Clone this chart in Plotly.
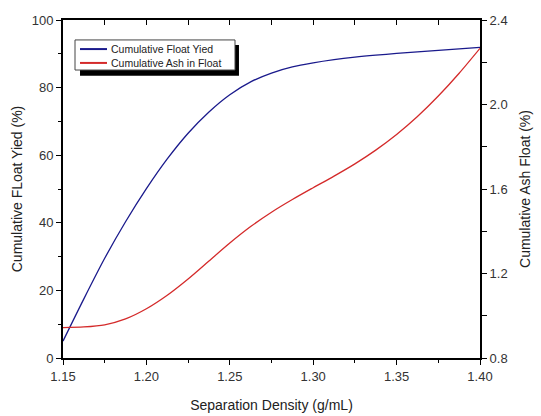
import plotly.graph_objects as go

density = [1.15, 1.1625, 1.175, 1.1875, 1.20, 1.2125, 1.225, 1.2375, 1.25, 1.2625, 1.275,
           1.2875, 1.30, 1.3125, 1.325, 1.3375, 1.35, 1.3625, 1.375, 1.3875, 1.40]
float_yield = [5.0, 17.5, 29.5, 40.3, 50.1, 58.9, 66.5, 72.8, 77.9, 81.7, 84.3,
               86.1, 87.3, 88.25, 89.0, 89.6, 90.1, 90.55, 91.0, 91.45, 91.9]
ash_float = [0.944, 0.947, 0.957, 0.985, 1.033, 1.097, 1.174, 1.259, 1.344, 1.422, 1.490,
             1.550, 1.606, 1.661, 1.719, 1.784, 1.858, 1.943, 2.040, 2.148, 2.266]
series_names = ["Cumulative Float Yied", "Cumulative Ash in Float"]
series_colors = ["#1a1a8c", "#d42a2a"]

FONT = "Liberation Sans, Arial, sans-serif"

fig = go.Figure()
fig.add_trace(go.Scatter(x=density, y=float_yield, mode="lines", name=series_names[0],
                         line=dict(color=series_colors[0], width=1.3, shape="spline", smoothing=0.8)))
fig.add_trace(go.Scatter(x=density, y=ash_float, mode="lines", name=series_names[1],
                         yaxis="y2", line=dict(color=series_colors[1], width=1.3, shape="spline", smoothing=0.8)))
fig.add_trace(go.Scatter(x=[1.15], y=[None], xaxis="x2", showlegend=False, hoverinfo="skip"))

axis_common = dict(showline=True, linecolor="black", linewidth=2, showgrid=False, zeroline=False,
                   tickfont=dict(family=FONT, size=13, color="#333"), ticklen=5, tickwidth=1.2,
                   tickcolor="black", automargin=False)

# legend drawn as a boxed panel with drop shadow
shapes = [
    dict(type="rect", xref="paper", yref="paper", x0=0.0408, x1=0.422, y0=0.835, y1=0.926,
         fillcolor="black", line=dict(width=0), layer="above"),
    dict(type="rect", xref="paper", yref="paper", x0=0.0288, x1=0.4125, y0=0.852, y1=0.941,
         fillcolor="white", line=dict(color="#444", width=1), layer="above"),
]
annotations = []
for i, (nm, col) in enumerate(zip(series_names, series_colors)):
    yy = 0.914 - i * 0.041
    shapes.append(dict(type="line", xref="paper", yref="paper", x0=0.0408, x1=0.1055, y0=yy, y1=yy,
                       line=dict(color=col, width=2), layer="above"))
    annotations.append(dict(xref="paper", yref="paper", x=0.110, y=yy, xanchor="left", yanchor="middle",
                            text=nm, showarrow=False, font=dict(family=FONT, size=10.5, color="#222")))

fig.update_layout(
    width=541, height=416,
    margin=dict(l=63, r=61, t=20, b=58),
    paper_bgcolor="white", plot_bgcolor="white",
    font=dict(family=FONT, color="#222"),
    showlegend=False,
    xaxis=dict(range=[1.15, 1.40], dtick=0.05, tick0=1.15, tickformat=".2f", ticks="outside",
               minor=dict(dtick=0.025, ticks="outside", ticklen=3, tickcolor="black"),
               title=dict(text="Separation Density (g/mL)", font=dict(family=FONT, size=14, color="#222"),
                          standoff=18),
               **axis_common),
    xaxis2=dict(range=[1.15, 1.40], overlaying="x", side="top", anchor="y", ticks="inside",
                dtick=0.025, tick0=1.15, showticklabels=False, showline=True, linecolor="black",
                linewidth=2, showgrid=False, zeroline=False, ticklen=5, tickcolor="black"),
    yaxis=dict(range=[0, 100], dtick=20, ticks="outside",
               minor=dict(dtick=10, ticks="outside", ticklen=3, tickcolor="black"),
               title=dict(text="Cumulative FLoat Yied (%)", font=dict(family=FONT, size=14, color="#222"),
                          standoff=6),
               **axis_common),
    yaxis2=dict(range=[0.8, 2.4], dtick=0.4, tick0=0.8, tickformat=".1f", ticks="outside",
                overlaying="y", side="right", anchor="x",
                minor=dict(dtick=0.2, ticks="outside", ticklen=5, tickcolor="black"),
                title=dict(text="Cumulative Ash Float (%)", font=dict(family=FONT, size=14, color="#222"),
                           standoff=14),
                **axis_common),
    shapes=shapes,
    annotations=annotations,
)

fig.write_html("out.html")
